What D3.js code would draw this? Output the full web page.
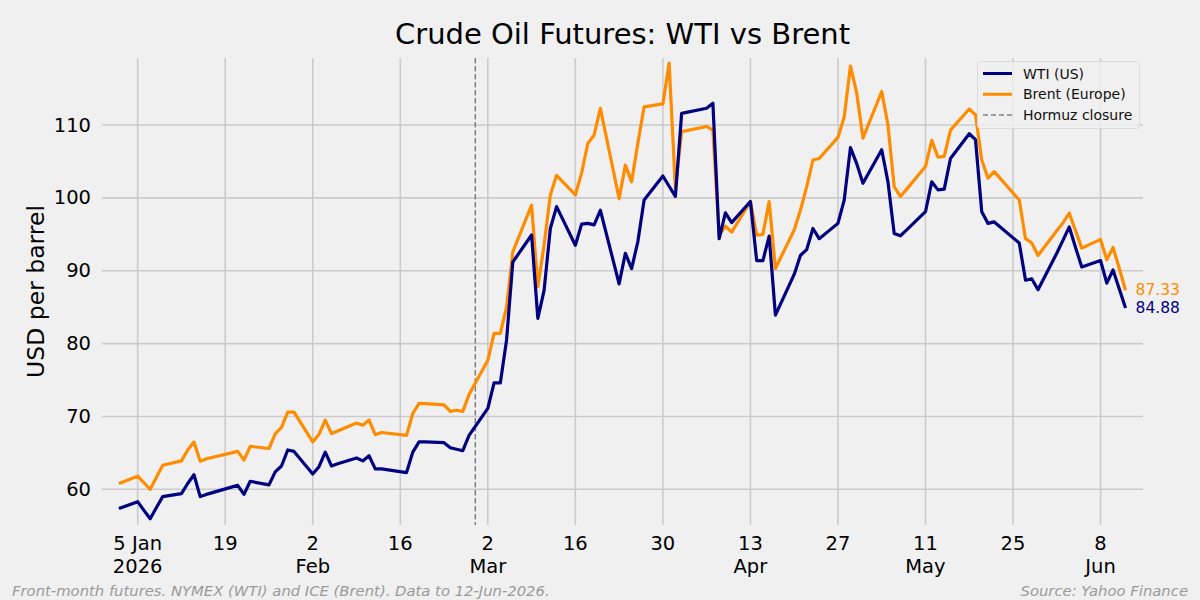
<!DOCTYPE html>
<html>
<head>
<meta charset="utf-8">
<script src="https://cdn.jsdelivr.net/npm/d3@7"></script>
<style>
  html, body { margin: 0; padding: 0; background: #f0f0f0; }
  svg { display: block; font-family: "DejaVu Sans", sans-serif; }
</style>
</head>
<body>
<svg id="chart" width="1200" height="600"></svg>
<script>
// ---------------- data ----------------
const dates = [
  "2026-01-02","2026-01-05","2026-01-06","2026-01-07","2026-01-08","2026-01-09",
  "2026-01-12","2026-01-13","2026-01-14","2026-01-15","2026-01-16",
  "2026-01-20","2026-01-21","2026-01-22","2026-01-23",
  "2026-01-26","2026-01-27","2026-01-28","2026-01-29","2026-01-30",
  "2026-02-02","2026-02-03","2026-02-04","2026-02-05","2026-02-06",
  "2026-02-09","2026-02-10","2026-02-11","2026-02-12","2026-02-13",
  "2026-02-17","2026-02-18","2026-02-19","2026-02-20",
  "2026-02-23","2026-02-24","2026-02-25","2026-02-26","2026-02-27",
  "2026-03-02","2026-03-03","2026-03-04","2026-03-05","2026-03-06",
  "2026-03-09","2026-03-10","2026-03-11","2026-03-12","2026-03-13",
  "2026-03-16","2026-03-17","2026-03-18","2026-03-19","2026-03-20",
  "2026-03-23","2026-03-24","2026-03-25","2026-03-26","2026-03-27",
  "2026-03-30","2026-03-31","2026-04-01","2026-04-02",
  "2026-04-06","2026-04-07","2026-04-08","2026-04-09","2026-04-10",
  "2026-04-13","2026-04-14","2026-04-15","2026-04-16","2026-04-17",
  "2026-04-20","2026-04-21","2026-04-22","2026-04-23","2026-04-24",
  "2026-04-27","2026-04-28","2026-04-29","2026-04-30","2026-05-01",
  "2026-05-04","2026-05-05","2026-05-06","2026-05-07","2026-05-08",
  "2026-05-11","2026-05-12","2026-05-13","2026-05-14","2026-05-15",
  "2026-05-18","2026-05-19","2026-05-20","2026-05-21","2026-05-22",
  "2026-05-26","2026-05-27","2026-05-28","2026-05-29",
  "2026-06-01","2026-06-02","2026-06-03","2026-06-04","2026-06-05",
  "2026-06-08","2026-06-09","2026-06-10","2026-06-11","2026-06-12"
];
const wti = [
  57.35,58.3,57.1,55.95,57.5,59.0,
  59.4,60.8,62.0,59.0,59.3,
  60.3,60.55,59.3,61.1,
  60.6,62.4,63.2,65.4,65.2,
  62.1,63.1,65.1,63.2,63.5,
  64.3,63.9,64.6,62.8,62.8,
  62.3,65.1,66.5,66.5,
  66.4,65.7,65.5,65.3,67.4,
  71.1,74.6,74.6,80.5,91.2,
  94.9,83.45,87.3,95.8,98.8,
  93.5,96.4,96.5,96.3,98.3,
  88.2,92.4,90.3,94.0,99.7,
  103.0,101.6,100.2,111.6,
  112.3,113.0,94.4,97.95,96.6,
  99.5,91.4,91.4,94.75,83.9,
  89.5,92.1,92.9,95.8,94.4,
  96.5,99.7,106.9,104.7,102.0,
  106.6,102.2,95.1,94.8,95.6,
  98.1,102.2,101.1,101.2,105.4,
  108.8,108.0,98.1,96.5,96.7,
  93.8,88.7,88.9,87.4,
  92.4,94.2,96.0,93.2,90.5,
  91.4,88.3,90.1,87.5,84.88
];
const brent = [
  60.8,61.8,60.9,60.0,61.65,63.3,
  63.9,65.4,66.5,63.85,64.2,
  65.0,65.2,64.0,65.9,
  65.6,67.6,68.5,70.6,70.6,
  66.5,67.55,69.5,67.65,68.0,
  69.1,68.8,69.5,67.5,67.8,
  67.4,70.4,71.8,71.75,
  71.6,70.7,70.85,70.7,73.0,
  77.7,81.4,81.4,85.0,92.6,
  99.0,87.8,93.5,100.4,103.1,
  100.4,103.4,107.5,108.6,112.3,
  99.9,104.5,102.2,107.5,112.5,
  112.9,118.5,101.3,109.1,
  109.8,109.3,94.9,96.1,95.3,
  99.5,94.9,95.0,99.5,90.3,
  95.6,98.3,101.5,105.2,105.4,
  108.3,111.1,118.1,114.4,108.2,
  114.6,110.0,101.5,100.2,101.2,
  104.3,107.9,105.6,105.7,109.3,
  112.2,111.4,105.2,102.7,103.6,
  99.7,94.4,93.8,92.1,
  95.5,96.6,97.9,95.5,93.1,
  94.3,91.5,93.2,90.3,87.33
];
const tickDates = ["2026-01-05","2026-01-19","2026-02-02","2026-02-16","2026-03-02","2026-03-16",
                   "2026-03-30","2026-04-13","2026-04-27","2026-05-11","2026-05-25","2026-06-08"];
const tickLine1 = ["5 Jan","19","2","16","2","16","30","13","27","11","25","8"];
const tickLine2 = ["2026","","Feb","","Mar","","","Apr","","May","","Jun"];
const yTicks = [60,70,80,90,100,110];
const eventDate = "2026-02-28";
const seriesNames = ["WTI (US)", "Brent (Europe)"];
const eventName = "Hormuz closure";
const titleText = "Crude Oil Futures: WTI vs Brent";
const yLabel = "USD per barrel";
const footLeft = "Front-month futures. NYMEX (WTI) and ICE (Brent). Data to 12-Jun-2026.";
const footRight = "Source: Yahoo Finance";

// ---------------- drawing ----------------
const parse = d3.utcParse("%Y-%m-%d");
const svg = d3.select("#chart");
const W = 1200, H = 600;
const M = {left: 102, right: 1143, top: 58, bottom: 525};
const C = {wti: "#000080", brent: "#ff8c00", grid: "#cbcbcb", text: "#000", foot: "#9a9a9a"};

svg.append("rect").attr("width", W).attr("height", H).attr("fill", "#f0f0f0");

const x = d3.scaleUtc()
  .domain([Date.UTC(2025, 11, 30, 7), Date.UTC(2026, 5, 14, 19)])
  .range([M.left, M.right]);
const y = d3.scaleLinear().domain([55.1, 119.2]).range([M.bottom, M.top]);

// grid
const g = svg.append("g");
g.selectAll(".vg").data(tickDates).join("line")
  .attr("x1", d => x(parse(d))).attr("x2", d => x(parse(d)))
  .attr("y1", M.top).attr("y2", M.bottom)
  .attr("stroke", C.grid).attr("stroke-width", 1.6);
g.selectAll(".hg").data(yTicks).join("line")
  .attr("x1", M.left).attr("x2", M.right)
  .attr("y1", d => y(d)).attr("y2", d => y(d))
  .attr("stroke", C.grid).attr("stroke-width", 1.6);

// y tick labels
svg.append("g").selectAll("text").data(yTicks).join("text")
  .attr("x", M.left - 11).attr("y", d => y(d))
  .attr("text-anchor", "end").attr("dominant-baseline", "central")
  .attr("font-size", 19.5).attr("fill", C.text)
  .text(d => d);

// x tick labels
const xl = svg.append("g");
tickDates.forEach((d, i) => {
  const t = xl.append("text")
    .attr("x", x(parse(d))).attr("y", 550)
    .attr("text-anchor", "middle").attr("font-size", 19.5).attr("fill", C.text);
  t.append("tspan").attr("x", x(parse(d))).attr("y", 550).text(tickLine1[i]);
  if (tickLine2[i]) t.append("tspan").attr("x", x(parse(d))).attr("y", 573).text(tickLine2[i]);
});

// event line
svg.append("line")
  .attr("x1", x(parse(eventDate))).attr("x2", x(parse(eventDate)))
  .attr("y1", M.top).attr("y2", M.bottom)
  .attr("stroke", "#808080").attr("stroke-width", 1.5)
  .attr("stroke-dasharray", "5.5,2.5");

// lines
const rows = dates.map((d, i) => ({date: parse(d), w: wti[i], b: brent[i]}));
const lineW = d3.line().x(d => x(d.date)).y(d => y(d.w));
const lineB = d3.line().x(d => x(d.date)).y(d => y(d.b));
svg.append("path").datum(rows).attr("d", lineB)
  .attr("fill", "none").attr("stroke", C.brent).attr("stroke-width", 3.2)
  .attr("stroke-linejoin", "round").attr("stroke-linecap", "butt");
svg.append("path").datum(rows).attr("d", lineW)
  .attr("fill", "none").attr("stroke", C.wti).attr("stroke-width", 3.2)
  .attr("stroke-linejoin", "round").attr("stroke-linecap", "butt");

// end labels
const last = rows[rows.length - 1];
svg.append("text").attr("x", x(last.date) + 10).attr("y", y(last.b) + 4.5)
  .attr("font-size", 15.5).attr("fill", C.brent).text(last.b.toFixed(2));
svg.append("text").attr("x", x(last.date) + 10).attr("y", y(last.w) + 4.5)
  .attr("font-size", 15.5).attr("fill", C.wti).text(last.w.toFixed(2));

// title
svg.append("text").attr("x", (M.left + M.right) / 2).attr("y", 44)
  .attr("text-anchor", "middle").attr("font-size", 29).attr("fill", C.text)
  .text(titleText);

// y label
svg.append("text").attr("transform", `translate(44,${(M.top + M.bottom) / 2}) rotate(-90)`)
  .attr("text-anchor", "middle").attr("font-size", 23.5).attr("fill", C.text)
  .text(yLabel);

// legend
const lg = svg.append("g");
lg.append("rect").attr("x", 977.5).attr("y", 61.5).attr("width", 162).attr("height", 67)
  .attr("rx", 3).attr("fill", "#f0f0f0").attr("fill-opacity", 0.8)
  .attr("stroke", "#dadada").attr("stroke-width", 1);
const legItems = [
  {name: seriesNames[0], color: C.wti, dash: null, w: 3},
  {name: seriesNames[1], color: C.brent, dash: null, w: 3},
  {name: eventName, color: "#808080", dash: "5,3", w: 1.5}
];
legItems.forEach((it, i) => {
  const yy = 73.5 + i * 20.8;
  lg.append("line").attr("x1", 983).attr("x2", 1012).attr("y1", yy).attr("y2", yy)
    .attr("stroke", it.color).attr("stroke-width", it.w)
    .attr("stroke-dasharray", it.dash);
  lg.append("text").attr("x", 1023).attr("y", yy).attr("dominant-baseline", "central")
    .attr("font-size", 14).attr("fill", "#111").text(it.name);
});

// footers
svg.append("text").attr("x", 12).attr("y", 596).attr("font-size", 14.8)
  .attr("font-style", "italic").attr("fill", C.foot).text(footLeft);
svg.append("text").attr("x", 1188).attr("y", 596).attr("text-anchor", "end").attr("font-size", 14.8)
  .attr("font-style", "italic").attr("fill", C.foot).text(footRight);
</script>
</body>
</html>
